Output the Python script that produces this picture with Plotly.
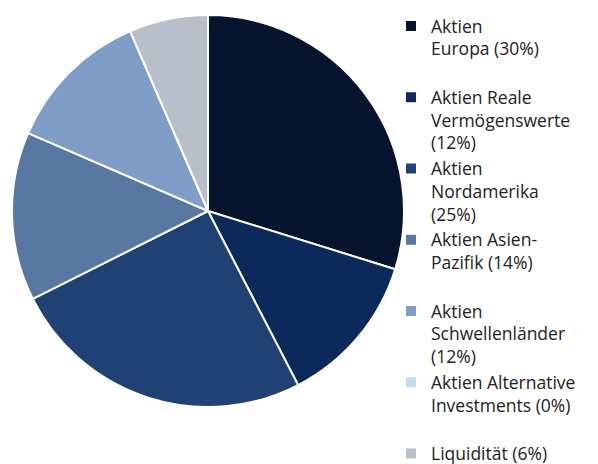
import plotly.graph_objects as go

labels = [
    "Aktien<br>Europa (30%)<br> ",
    "Aktien Reale<br>Vermögenswerte<br>(12%)",
    "Aktien<br>Nordamerika<br>(25%)",
    "Aktien Asien-<br>Pazifik (14%)<br> ",
    "Aktien<br>Schwellenländer<br>(12%)",
    "Aktien Alternative<br>Investments (0%)<br> ",
    "Liquidität (6%)",
]
values = [29.8, 12.6, 25.2, 13.9, 12.0, 0.0, 6.5]
colors = ["#06142e", "#0b2a5b", "#1f4173", "#5878a2", "#7f9dc7", "#c6daf5", "#b7bfcb"]

# the page adds an 8px body margin; size the figure to the visible area
OFF = 8
W, H = 598 - OFF, 464 - OFF
fig = go.Figure(go.Pie(
    labels=labels,
    values=values,
    sort=False,
    direction="clockwise",
    rotation=0,
    textinfo="none",
    hoverinfo="label+percent",
    marker=dict(colors=colors, line=dict(color="white", width=2)),
    domain=dict(x=[(12 - OFF) / W, (404 - OFF) / W],
                y=[1 - (407 - OFF) / H, 1 - (15 - OFF) / H]),
))
fig.update_layout(
    width=W, height=H,
    margin=dict(l=0, r=0, t=0, b=0),
    paper_bgcolor="white",
    font=dict(family="Open Sans, Arial, sans-serif", size=17.5, color="#222222"),
    legend=dict(
        x=(391 - OFF) / W, xanchor="left",
        y=1.0, yanchor="top",
        valign="top",
        traceorder="normal",
        bgcolor="rgba(0,0,0,0)",
        maxheight=600,
        font=dict(size=17.5, color="#222222"),
        itemclick=False,
    ),
    showlegend=True,
)
fig.write_html("out.html")
